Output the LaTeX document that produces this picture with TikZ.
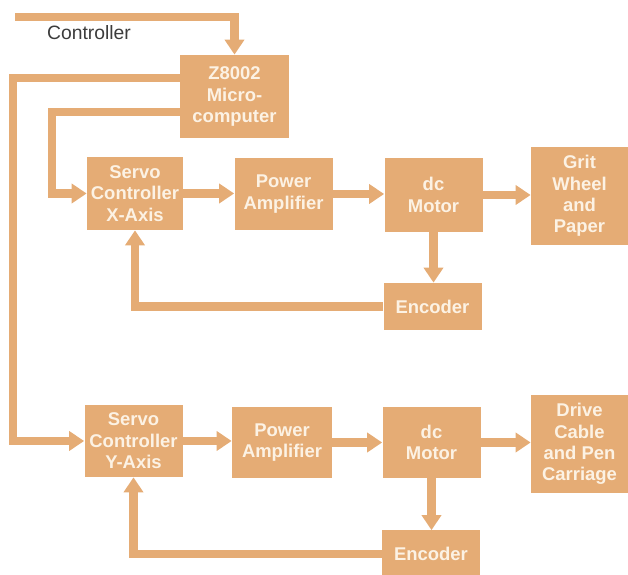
\documentclass[tikz,border=0pt]{standalone}
\usepackage{fontspec}
\setmainfont{Liberation Sans}
\usetikzlibrary{arrows.meta}
\definecolor{tan}{RGB}{229,172,117}
\definecolor{cream}{RGB}{252,242,228}
\definecolor{ink}{RGB}{60,60,60}
\begin{document}
\begin{tikzpicture}[
        box/.style={fill=tan, text=cream, align=center, inner sep=0pt,
            font=\fontsize{10.5}{12.2}\selectfont\bfseries,
            minimum width=1.96cm, minimum height=1.44cm},
        flow/.style={draw=tan, line width=0.165cm,
            -{Triangle[width=0.38cm,length=0.3cm]}}]
        \useasboundingbox (0,0) rectangle (12.56,11.5);

        \node[box, minimum width=2.18cm, minimum height=1.66cm] (1) at (4.69,9.57) {Z8002\\Micro-\\computer};
        \node[box, minimum width=1.92cm, minimum height=1.46cm] (2) at (2.70,7.63) {Servo\\Controller\\X-Axis};
        \node[box] (3) at (5.67,7.62) {Power\\Amplifier};
        \node[box, minimum height=1.48cm] (4) at (8.67,7.60) {dc\\Motor};
        \node[box, minimum width=1.94cm, minimum height=1.96cm] (5) at (11.59,7.58) {Grit\\Wheel\\and\\Paper};
        \node[box, minimum height=0.94cm] (6) at (8.65,5.37) {Encoder};
        \node[box] (7) at (2.67,2.68) {Servo\\Controller\\Y-Axis};
        \node[box, minimum width=2.0cm, minimum height=1.42cm] (8) at (5.64,2.65) {Power\\Amplifier};
        \node[box, minimum height=1.42cm] (9) at (8.63,2.65) {dc\\Motor};
        \node[box, minimum width=1.94cm, minimum height=1.96cm] (10) at (11.59,2.62) {Drive\\Cable\\and Pen\\Carriage};
        \node[box, minimum height=0.94cm] (11) at (8.62,0.42) {Encoder};

        \coordinate (c1) at (0.30,11.16);
        \coordinate (c2) at (0.26,5.00);
        \coordinate (c3) at (1.04,8.50);
        \node[text=ink, font=\fontsize{11}{13}\selectfont] (12) at (1.78,10.84) {Controller};

        \path[flow] (c1) -| (1.north);
        \path[flow] ([yshift=0.37cm]1.west) -| (c2) |- (7.west);
        \path[flow] ([yshift=-0.31cm]1.west) -| (c3) |- (2.west);
        \path[flow] (2.east) -- (2.east -| 3.west);
        \path[flow] (3.east) -- (3.east -| 4.west);
        \path[flow] (4.east) -- (4.east -| 5.west);
        \path[flow] (4.south) -- (4.south |- 6.north);
        \path[flow] (6.west) -| (2.south);
        \path[flow] (7.east) -- (7.east -| 8.west);
        \path[flow] (8.east) -- (8.east -| 9.west);
        \path[flow] (9.east) -- (9.east -| 10.west);
        \path[flow] (9.south) -- (9.south |- 11.north);
        \path[flow] (11.west) -| (7.south);
    \end{tikzpicture}
\end{document}
